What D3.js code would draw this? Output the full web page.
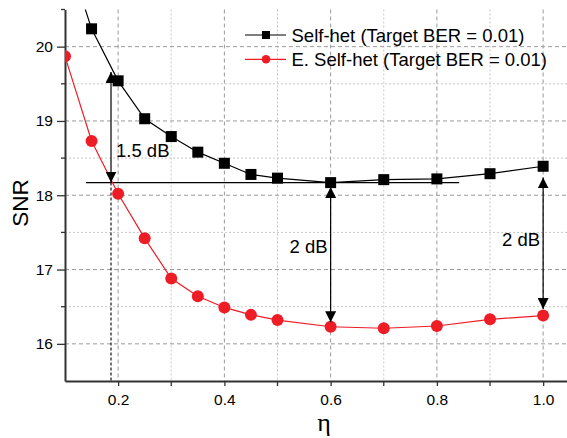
<!DOCTYPE html>
<html>
<head>
<meta charset="utf-8">
<script src="https://cdn.jsdelivr.net/npm/d3@7"></script>
<style>
  body { margin: 0; background: #fff; }
  text { font-family: "Liberation Sans", Arial, sans-serif; fill: #000; }
</style>
</head>
<body>
<div id="chart"></div>
<script>
// values
const etas = [0.1, 0.15, 0.2, 0.25, 0.3, 0.35, 0.4, 0.45, 0.5, 0.6, 0.7, 0.8, 0.9, 1.0];
const selfHet = [21.35, 20.24, 19.54, 19.03, 18.79, 18.58, 18.43, 18.28, 18.23, 18.17, 18.21, 18.22, 18.29, 18.39];
const eSelfHet = [19.87, 18.73, 18.02, 17.42, 16.88, 16.64, 16.49, 16.39, 16.32, 16.23, 16.21, 16.24, 16.33, 16.38];
const seriesNames = ['Self-het (Target BER = 0.01)', 'E. Self-het (Target BER = 0.01)'];

const xMajor = [0.2, 0.4, 0.6, 0.8, 1.0];
const xMinor = [0.3, 0.5, 0.7, 0.9];
const yMajor = [16, 17, 18, 19, 20];
const yMinor = [15.5, 16.5, 17.5, 18.5, 19.5, 20.5];

// annotations: [eta, from, to, label]
const gapArrows = [
  [0.1866, 19.66, 18.17, '1.5 dB'],
  [0.6, 18.11, 16.29, '2 dB'],
  [1.0, 18.24, 16.47, '2 dB']
];
const refLine = [0.1395, 0.842, 18.17];

const width = 567;
const height = 438;

const svg = d3.select('#chart')
              .append('svg')
              .attr('width', width)
              .attr('height', height);

const x = d3.scaleLinear().domain([0.1, 1.05]).range([65, 569.7]);
const y = d3.scaleLinear().domain([15.5, 20.5]).range([381, 9.5]);

const defs = svg.append('defs');
defs.append('clipPath')
   .attr('id', 'plot-clip')
   .append('rect')
   .attr('x', 65).attr('y', 9.5)
   .attr('width', width - 65).attr('height', 381 - 9.5);

defs.append('marker')
    .attr('id', 'arrow')
    .attr('viewBox', '0 0 10 10')
    .attr('refX', 10).attr('refY', 5)
    .attr('markerUnits', 'userSpaceOnUse')
    .attr('markerWidth', 11).attr('markerHeight', 11)
    .attr('orient', 'auto-start-reverse')
    .append('path')
    .attr('d', 'M0,0 L10,5 L0,10 Z')
    .attr('fill', '#000');

// grid
const grid = svg.append('g');
grid.selectAll('.ymin').data(yMinor.filter(v => v > 15.5 && v < 20.5)).enter()
    .append('line')
    .attr('x1', 65).attr('x2', width)
    .attr('y1', d => y(d)).attr('y2', d => y(d))
    .attr('stroke', '#c8c8c8').attr('stroke-dasharray', '2,2');
grid.selectAll('.xmin').data(xMinor).enter()
    .append('line')
    .attr('x1', d => x(d)).attr('x2', d => x(d))
    .attr('y1', 9.5).attr('y2', 381)
    .attr('stroke', '#c8c8c8').attr('stroke-dasharray', '2,2');
grid.selectAll('.ymaj').data(yMajor).enter()
    .append('line')
    .attr('x1', 65).attr('x2', width)
    .attr('y1', d => y(d)).attr('y2', d => y(d))
    .attr('stroke', '#9a9a9a').attr('stroke-dasharray', '4,3');
grid.selectAll('.xmaj').data(xMajor).enter()
    .append('line')
    .attr('x1', d => x(d)).attr('x2', d => x(d))
    .attr('y1', 9.5).attr('y2', 381)
    .attr('stroke', '#9a9a9a').attr('stroke-dasharray', '4,3');

// axes
const xAxis = d3.axisBottom(x)
                .tickValues(xMajor)
                .tickFormat(d3.format('.1f'))
                .tickSize(5)
                .tickSizeOuter(0);
const gx = svg.append('g')
   .attr('transform', 'translate(0,381)')
   .call(xAxis);
gx.selectAll('.tick text').attr('y', 10).attr('dy', '0.9em');
gx.selectAll('.minor').data(xMinor).enter()
  .append('line')
  .attr('x1', d => x(d)).attr('x2', d => x(d))
  .attr('y1', 0).attr('y2', 5)
  .attr('stroke', '#333').attr('stroke-width', 1.3);

const yAxis = d3.axisLeft(y)
                .tickValues(yMajor)
                .tickFormat(d3.format('d'))
                .tickSize(8)
                .tickSizeOuter(0);
const gy = svg.append('g')
   .attr('transform', 'translate(65,0)')
   .call(yAxis);
gy.selectAll('.tick text').attr('x', -12);
gy.selectAll('.minor').data(yMinor.filter(v => v > 15.5)).enter()
  .append('line')
  .attr('x1', -4).attr('x2', 0)
  .attr('y1', d => y(d)).attr('y2', d => y(d))
  .attr('stroke', '#333').attr('stroke-width', 1.3);

[gx, gy].forEach(g => {
  g.select('.domain').attr('stroke', '#333').attr('stroke-width', 2);
  g.selectAll('.tick line').attr('stroke', '#333').attr('stroke-width', 1.3);
  g.selectAll('.tick text')
   .attr('fill', '#000')
   .style('font-size', '15.5px')
   .style('font-family', '"Liberation Sans", Arial, sans-serif');
});

// axis titles
svg.append('text')
   .attr('transform', 'translate(28,203) rotate(-90)')
   .attr('text-anchor', 'middle')
   .style('font-size', '22.5px')
   .text('SNR');
svg.append('text')
   .attr('x', 324).attr('y', 431)
   .attr('text-anchor', 'middle')
   .style('font-family', '"Liberation Serif", "DejaVu Serif", serif')
   .style('font-size', '26px')
   .text('η');

// annotation lines
svg.append('line')
   .attr('x1', x(refLine[0])).attr('x2', x(refLine[1]))
   .attr('y1', y(refLine[2])).attr('y2', y(refLine[2]))
   .attr('stroke', '#000').attr('stroke-width', 1.2);
svg.append('line')
   .attr('x1', x(gapArrows[0][0])).attr('x2', x(gapArrows[0][0]))
   .attr('y1', y(refLine[2])).attr('y2', 381)
   .attr('stroke', '#000').attr('stroke-width', 1.1)
   .attr('stroke-dasharray', '3,2');

// series
const plot = svg.append('g').attr('clip-path', 'url(#plot-clip)');
const line = (vals) => d3.line()
                         .x((d, i) => x(etas[i]))
                         .y(d => y(d))(vals);

plot.append('path')
    .attr('d', line(eSelfHet))
    .attr('fill', 'none').attr('stroke', '#ee1c25').attr('stroke-width', 1.2);
plot.append('path')
    .attr('d', line(selfHet))
    .attr('fill', 'none').attr('stroke', '#000').attr('stroke-width', 1.2);

plot.selectAll('.circ').data(eSelfHet).enter()
    .append('circle')
    .attr('cx', (d, i) => x(etas[i])).attr('cy', d => y(d))
    .attr('r', 6).attr('fill', '#ee1c25');
plot.selectAll('.sq').data(selfHet).enter()
    .append('rect')
    .attr('x', (d, i) => x(etas[i]) - 5.5).attr('y', d => y(d) - 5.5)
    .attr('width', 11).attr('height', 11).attr('fill', '#000');

// gap arrows
const ann = svg.selectAll('.gap').data(gapArrows).enter().append('g');
ann.append('line')
   .attr('x1', d => x(d[0])).attr('x2', d => x(d[0]))
   .attr('y1', d => y(d[1])).attr('y2', d => y(d[2]))
   .attr('stroke', '#000').attr('stroke-width', 1.2)
   .attr('marker-start', 'url(#arrow)')
   .attr('marker-end', 'url(#arrow)');
ann.append('text')
   .attr('x', (d, i) => i === 0 ? x(d[0]) + 5 : x(d[0]) - 3)
   .attr('y', (d, i) => i === 0 ? 157 : (i === 1 ? 253 : 246))
   .attr('text-anchor', (d, i) => i === 0 ? 'start' : 'end')
   .style('font-size', '18.5px')
   .text(d => d[3]);

// legend
const legend = svg.append('g').attr('transform', 'translate(245,35)');
const legendRows = legend.selectAll('g').data(seriesNames).enter()
   .append('g')
   .attr('transform', (d, i) => 'translate(0,' + i * 24.3 + ')');
legendRows.append('line')
   .attr('x1', 0).attr('x2', 41)
   .attr('stroke', (d, i) => i === 0 ? '#000' : '#ee1c25')
   .attr('stroke-width', 1.2);
legendRows.filter((d, i) => i === 0).append('rect')
   .attr('x', 17).attr('y', -4).attr('width', 8).attr('height', 8).attr('fill', '#000');
legendRows.filter((d, i) => i === 1).append('circle')
   .attr('cx', 21).attr('r', 4.3).attr('fill', '#ee1c25');
legendRows.append('text')
   .attr('x', 46.5).attr('y', 6.5)
   .style('font-size', '18.5px')
   .text(d => d);
</script>
</body>
</html>
